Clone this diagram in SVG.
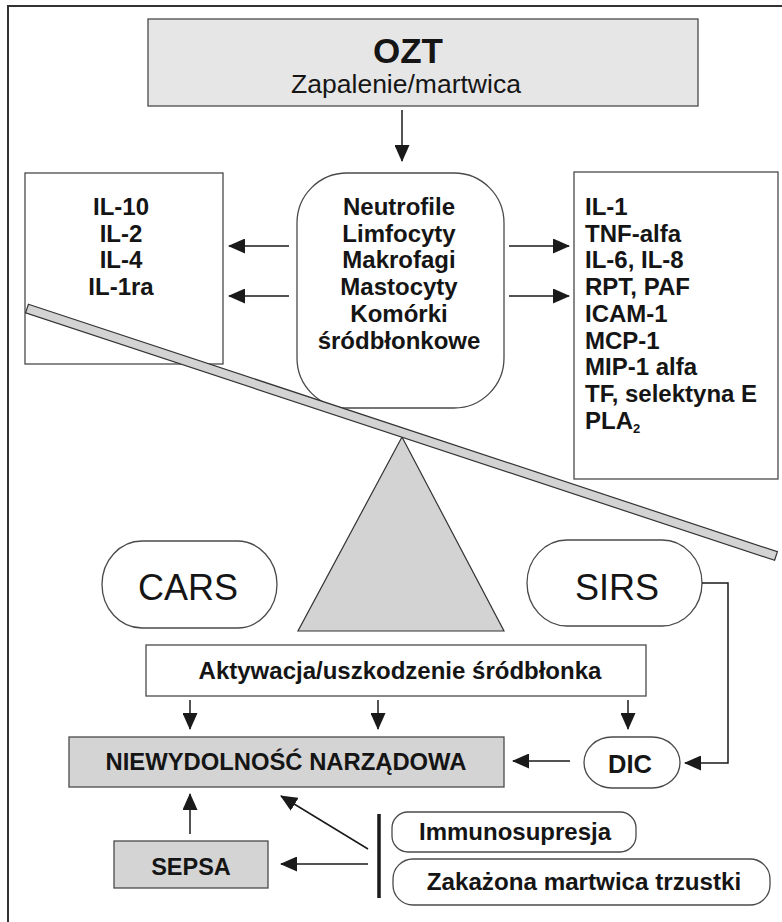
<svg xmlns="http://www.w3.org/2000/svg" width="782" height="922" viewBox="0 0 782 922">
<style>
  .box{fill:#fff;stroke:#4a4a4a;stroke-width:1.3}
  .gray{fill:#d4d4d4;stroke:#4a4a4a;stroke-width:1.3}
  .light{fill:#e6e6e6;stroke:#4a4a4a;stroke-width:1.3}
  .b{font-family:"Liberation Sans",Arial,sans-serif;font-weight:bold;fill:#151515}
  .r{font-family:"Liberation Sans",Arial,sans-serif;fill:#151515}
  .c{text-anchor:middle}
  .list{font-size:24px}
  .conn line,.conn path{stroke:#1a1a1a;stroke-width:1.5;fill:none}
</style>
<defs>
  <marker id="ah" viewBox="0 0 17 15" refX="16" refY="7.5" markerWidth="17" markerHeight="15" markerUnits="userSpaceOnUse" orient="auto">
    <path d="M0,0 L17,7.5 L0,15 z" fill="#1a1a1a"/>
  </marker>
</defs>
<rect width="782" height="922" fill="#fff"/>
<path d="M8,922 V6 H782" fill="none" stroke="#333" stroke-width="2"/>

<g id="ozt">
  <rect class="light" x="148" y="19" width="550" height="87"/>
  <text class="b c" x="408" y="63" font-size="35">OZT</text>
  <text class="r c" x="406" y="93" font-size="26.5">Zapalenie/martwica</text>
</g>

<g id="anti">
  <rect class="box" x="25" y="173" width="198" height="191"/>
  <text class="b c list" x="121" y="214.5">IL-10</text>
  <text class="b c list" x="121" y="241.5">IL-2</text>
  <text class="b c list" x="121" y="268">IL-4</text>
  <text class="b c list" x="121" y="295">IL-1ra</text>
</g>

<g id="cells">
  <rect class="box" x="297" y="173" width="207" height="235" rx="50" ry="50"/>
  <text class="b c list" x="399" y="214.5">Neutrofile</text>
  <text class="b c list" x="399" y="241.5">Limfocyty</text>
  <text class="b c list" x="399" y="268">Makrofagi</text>
  <text class="b c list" x="399" y="295">Mastocyty</text>
  <text class="b c list" x="399" y="322">Komórki</text>
  <text class="b c list" x="399" y="348.5">śródbłonkowe</text>
</g>

<g id="pro">
  <rect class="box" x="574" y="172" width="204" height="307"/>
  <text class="b list" x="585" y="214.5">IL-1</text>
  <text class="b list" x="585" y="241.5">TNF-alfa</text>
  <text class="b list" x="585" y="268">IL-6, IL-8</text>
  <text class="b list" x="585" y="295">RPT, PAF</text>
  <text class="b list" x="585" y="322">ICAM-1</text>
  <text class="b list" x="585" y="348.5">MCP-1</text>
  <text class="b list" x="585" y="375">MIP-1 alfa</text>
  <text class="b list" x="585" y="402">TF, selektyna E</text>
  <text class="b list" x="585" y="428.5">PLA<tspan font-size="13" dy="4">2</tspan></text>
</g>

<g id="scale">
  <polygon points="402,437 298,631 504,631" fill="#d3d3d3" stroke="#333" stroke-width="1.2"/>
  <polygon points="28.4,304.2 777.4,551.7 774.6,560.3 25.6,312.8" fill="#d3d3d3" stroke="#333" stroke-width="1.2"/>
</g>

<g id="cars">
  <rect class="box" x="102" y="541" width="175" height="87" rx="40" ry="43.5"/>
  <text class="r c" x="188" y="600" font-size="36">CARS</text>
</g>

<g id="sirs">
  <rect class="box" x="527" y="540" width="175" height="86" rx="40" ry="43"/>
  <text class="r c" x="617" y="600" font-size="36">SIRS</text>
</g>

<g id="aktywacja">
  <rect class="box" x="146" y="645" width="500" height="51"/>
  <text class="b c" x="400" y="679" font-size="24">Aktywacja/uszkodzenie śródbłonka</text>
</g>

<g id="niewydolnosc">
  <rect class="gray" x="69" y="737" width="435" height="50"/>
  <text class="b c" x="286" y="770" font-size="23.8">NIEWYDOLNOŚĆ NARZĄDOWA</text>
</g>

<g id="dic">
  <rect class="box" x="584" y="737" width="96" height="51" rx="28" ry="25.5"/>
  <text class="b c" x="630" y="773" font-size="25.5">DIC</text>
</g>

<g id="sepsa">
  <rect class="gray" x="114" y="841" width="154" height="47"/>
  <text class="b c" x="191" y="875" font-size="23.5">SEPSA</text>
</g>

<g id="immuno">
  <rect class="box" x="392" y="812" width="244" height="40" rx="16" ry="16"/>
  <text class="b c" x="515" y="840" font-size="24">Immunosupresja</text>
</g>

<g id="zakazona">
  <rect class="box" x="393" y="859" width="377" height="46" rx="20" ry="20"/>
  <text class="b c" x="584" y="890" font-size="24.2">Zakażona martwica trzustki</text>
</g>

<g id="connectors" class="conn">
  <line x1="402" y1="110" x2="402" y2="161" marker-end="url(#ah)"/>
  <line x1="289" y1="246" x2="229" y2="246" marker-end="url(#ah)"/>
  <line x1="289" y1="296" x2="229" y2="296" marker-end="url(#ah)"/>
  <line x1="509" y1="246" x2="569" y2="246" marker-end="url(#ah)"/>
  <line x1="509" y1="296" x2="569" y2="296" marker-end="url(#ah)"/>
  <path d="M702,583 H728 V763 H685" marker-end="url(#ah)"/>
  <line x1="190" y1="700" x2="190" y2="729" marker-end="url(#ah)"/>
  <line x1="378" y1="700" x2="378" y2="729" marker-end="url(#ah)"/>
  <line x1="628" y1="700" x2="628" y2="729" marker-end="url(#ah)"/>
  <line x1="570" y1="761" x2="513" y2="761" marker-end="url(#ah)"/>
  <line x1="190" y1="834" x2="190" y2="794" marker-end="url(#ah)"/>
  <line x1="368" y1="849" x2="281" y2="796" marker-end="url(#ah)"/>
  <line x1="368" y1="864" x2="281" y2="864" marker-end="url(#ah)"/>
  <line x1="379" y1="814" x2="379" y2="898" style="stroke-width:3.5"/>
</g>
</svg>
